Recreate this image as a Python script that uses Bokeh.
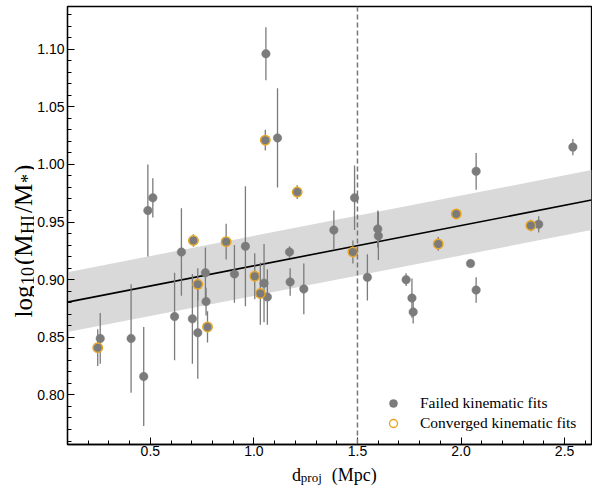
import math
from bokeh.plotting import figure
from bokeh.layouts import row, column
from bokeh.models import (ColumnDataSource, Range1d, Span, Legend, LegendItem, Label,
                          FixedTicker, PrintfTickFormatter)
from bokeh.embed import file_html
from bokeh.resources import INLINE

# ---------------- data ----------------
failed_x = [0.258, 0.407, 0.468, 0.488, 0.512, 0.617, 0.650, 0.703, 0.729, 0.766,
            0.769, 0.906, 0.959, 1.049, 1.065, 1.172, 1.175, 1.241, 1.114, 1.058,
            1.386, 1.486, 1.598, 1.601, 1.548, 1.735, 1.763, 1.769, 2.073, 2.046,
            2.073, 2.375, 2.540]
failed_y = [0.849, 0.849, 0.816, 0.960, 0.971, 0.868, 0.924, 0.866, 0.854, 0.906,
            0.881, 0.905, 0.929, 0.897, 0.885, 0.924, 0.898, 0.892, 1.023, 1.096,
            0.943, 0.971, 0.944, 0.938, 0.902, 0.900, 0.884, 0.872, 0.994, 0.914,
            0.891, 0.948, 1.015]
failed_err = [0.022, 0.047, 0.043, 0.040, 0.017, 0.038, 0.038, 0.039, 0.040, 0.022,
              0.012, 0.025, 0.052, 0.034, 0.024, 0.005, 0.012, 0.022, 0.043, 0.023,
              0.017, 0.028, 0.016, 0.021, 0.020, 0.0055, 0.017, 0.010, 0.016, 0.003,
              0.011, 0.007, 0.007]

conv_x = [0.246, 0.708, 0.729, 0.776, 0.866, 1.004, 1.031, 1.209, 1.055, 1.478,
          1.977, 1.890, 2.337]
conv_y = [0.841, 0.934, 0.896, 0.859, 0.933, 0.903, 0.888, 0.976, 1.021, 0.924,
          0.957, 0.931, 0.947]
conv_err = [0.016, 0.0055, 0.014, 0.0135, 0.0155, 0.020, 0.027, 0.006, 0.009, 0.010,
            0.004, 0.006, 0.005]

fit_intercept = 0.877
fit_slope = 0.035
fit_halfwidth = 0.026
fit_x = [0.1, 2.63]
split_distance = 1.5

x_ticks = [0.5, 1.0, 1.5, 2.0, 2.5]
x_minor = [0.2, 0.3, 0.4, 0.6, 0.7, 0.8, 0.9, 1.1, 1.2, 1.3, 1.4, 1.6, 1.7, 1.8,
           1.9, 2.1, 2.2, 2.3, 2.4, 2.6]
y_ticks = [0.80, 0.85, 0.90, 0.95, 1.00, 1.05, 1.10]
y_minor = [0.76, 0.77, 0.78, 0.79, 0.81, 0.82, 0.83, 0.84, 0.86, 0.87, 0.88, 0.89,
           0.91, 0.92, 0.93, 0.94, 0.96, 0.97, 0.98, 0.99, 1.01, 1.02, 1.03, 1.04,
           1.06, 1.07, 1.08, 1.09, 1.11, 1.12, 1.13]

legend_labels = ["Failed kinematic fits", "Converged kinematic fits"]

GRAY = "#7b7b7b"
ORANGE = "#e8a521"
BAND = "#d9d9d9"
SERIF = "Liberation Serif"

# layout geometry (pixels)
W, H = 592, 490
YLAB_W = 34
MAIN_H = 461

# ---------------- main figure ----------------
p = figure(width=W - YLAB_W, height=MAIN_H, output_backend="svg", toolbar_location=None,
           x_range=Range1d(0.1, 2.63), y_range=Range1d(0.757, 1.137),
           min_border_left=65 - YLAB_W, min_border_right=1, min_border_top=6,
           min_border_bottom=MAIN_H - 444)
p.xgrid.visible = False
p.ygrid.visible = False
p.outline_line_color = "black"
p.outline_line_width = 1.3
p.background_fill_color = "white"
p.border_fill_color = "white"

fx = fit_x
lo = [fit_intercept + fit_slope * v - fit_halfwidth for v in fx]
hi = [fit_intercept + fit_slope * v + fit_halfwidth for v in fx]
mid = [fit_intercept + fit_slope * v for v in fx]
p.varea(x=fx, y1=lo, y2=hi, fill_color=BAND, fill_alpha=1.0)
p.line(x=fx, y=mid, line_color="black", line_width=1.6)

p.add_layout(Span(location=split_distance, dimension="height", line_color="#777777",
                  line_width=1.5, line_dash="5 3"))

fsrc = ColumnDataSource(dict(x=failed_x, y=failed_y,
                             lo=[a - b for a, b in zip(failed_y, failed_err)],
                             hi=[a + b for a, b in zip(failed_y, failed_err)]))
csrc = ColumnDataSource(dict(x=conv_x, y=conv_y,
                             lo=[a - b for a, b in zip(conv_y, conv_err)],
                             hi=[a + b for a, b in zip(conv_y, conv_err)]))
p.segment(x0="x", y0="lo", x1="x", y1="hi", source=fsrc, line_color=GRAY, line_width=1.3)
p.segment(x0="x", y0="lo", x1="x", y1="hi", source=csrc, line_color=GRAY, line_width=1.3)

r_failed = p.scatter(x="x", y="y", source=fsrc, size=8.5, fill_color=GRAY,
                     line_color=GRAY, line_width=0.5)
p.scatter(x="x", y="y", source=csrc, size=8.5, fill_color=GRAY, line_color=GRAY,
          line_width=0.5)
r_conv = p.scatter(x="x", y="y", source=csrc, size=9.5, fill_color=None,
                   line_color=ORANGE, line_width=1.4)

legend = Legend(items=[LegendItem(label=legend_labels[0], renderers=[r_failed]),
                       LegendItem(label=legend_labels[1], renderers=[r_conv])],
                location=(316, 11), padding=0, margin=0, spacing=0,
                glyph_width=20, glyph_height=20, label_height=20, label_standoff=17,
                border_line_color=None, background_fill_alpha=0,
                label_text_font=SERIF, label_text_font_size="15.5px",
                label_text_color="black")
p.add_layout(legend)

for ax in (p.xaxis[0], p.yaxis[0]):
    ax.major_tick_in = 7
    ax.major_tick_out = 0
    ax.minor_tick_in = 4
    ax.minor_tick_out = 0
    ax.axis_line_color = "black"
    ax.axis_line_width = 1.3
    ax.major_tick_line_color = "black"
    ax.minor_tick_line_color = "black"
    ax.major_label_text_font = "Liberation Sans"
    ax.major_label_text_font_size = "14px"
    ax.major_label_text_color = "black"
p.xaxis[0].major_label_standoff = 1
p.yaxis[0].major_label_standoff = 3
p.xaxis[0].ticker = FixedTicker(ticks=x_ticks, minor_ticks=x_minor)
p.yaxis[0].ticker = FixedTicker(ticks=y_ticks, minor_ticks=y_minor)
p.xaxis[0].formatter = PrintfTickFormatter(format="%.1f")
p.yaxis[0].formatter = PrintfTickFormatter(format="%.2f")


def blank(width, height):
    f = figure(width=width, height=height, output_backend="svg", toolbar_location=None,
               x_range=Range1d(0, width), y_range=Range1d(0, height),
               x_axis_location=None, y_axis_location=None,
               min_border=0, min_border_left=0, min_border_right=0,
               min_border_top=0, min_border_bottom=0)
    f.grid.visible = False
    f.outline_line_color = None
    f.background_fill_color = "white"
    f.border_fill_color = "white"
    return f


def lab(f, text, x, y, size, angle=0.0):
    f.add_layout(Label(x=x, y=y, text=text, angle=angle, text_font=SERIF,
                       text_font_size=f"{size}px", text_color="black",
                       text_align="left", text_baseline="alphabetic"))


# ---------------- y label (left strip) ----------------
yl = blank(YLAB_W, H)
A = math.pi / 2
bx, sx = 23.0, 27.0   # baseline x for main text / subscripts
pieces = [("log", bx, 317.0, 25), ("10", sx, 284.5, 18), ("(M", bx, 264.5, 25),
          ("HI", sx, 233.5, 18), ("/M", bx, 212.5, 25), ("*", sx, 182.5, 18),
          (")", bx, 172.5, 25)]
for t, x, py, s in pieces:
    lab(yl, t, x, H - py, s, A)

# ---------------- x label (bottom strip) ----------------
XL_H = H - MAIN_H
xl = blank(W - YLAB_W, XL_H)
for t, px, py, s in [("d", 273.0, 474.0, 18), ("proj", 282.5, 477.0, 13),
                     ("(Mpc)", 315.5, 474.0, 18)]:
    lab(xl, t, px - YLAB_W, H - py, s)

layout = row(yl, column(p, xl, spacing=0), spacing=0)
open("out.html", "w").write(file_html(layout, INLINE))
